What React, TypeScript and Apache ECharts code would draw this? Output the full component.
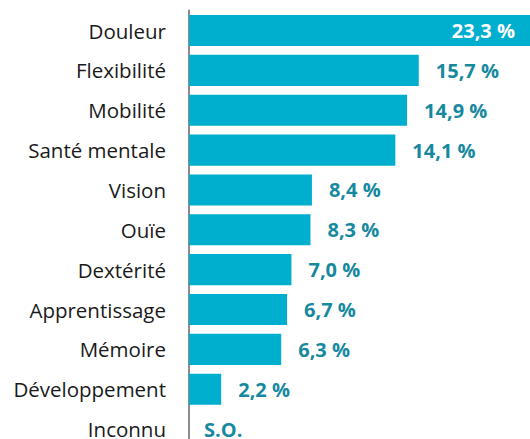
import React, { useEffect, useRef } from "react";
import * as echarts from "echarts";

const categories = [
  "Douleur",
  "Flexibilité",
  "Mobilité",
  "Santé mentale",
  "Vision",
  "Ouïe",
  "Dextérité",
  "Apprentissage",
  "Mémoire",
  "Développement",
  "Inconnu",
];
const values: (number | null)[] = [23.3, 15.7, 14.9, 14.1, 8.4, 8.3, 7.0, 6.7, 6.3, 2.2, null];
const missingLabel = "S.O.";

const BAR = "#00AECE";
const LABEL = "#17899F";
const FONT = "'Open Sans', 'Noto Sans', sans-serif";

const fmt = (v: number) => v.toFixed(1).replace(".", ",") + " %";

export default function App() {
  const ref = useRef<HTMLDivElement>(null);
  useEffect(() => {
    if (!ref.current) return;
    const chart = echarts.init(ref.current, undefined, { renderer: "svg" });
    const maxV = Math.max(...(values.filter((v) => v !== null) as number[]));
    const data = values.map((v) => {
      if (v === null) {
        return {
          value: 0,
          label: { show: true, position: "right", distance: 15, formatter: missingLabel },
        };
      }
      if (v === maxV) {
        return {
          value: v,
          label: { show: true, position: "insideRight", distance: 15, color: "#ffffff" },
        };
      }
      return { value: v };
    });
    chart.setOption({
      animation: false,
      grid: { left: 189, right: 0, top: 10.6, height: 438.4, containLabel: false },
      xAxis: {
        type: "value",
        min: 0,
        max: maxV,
        show: false,
      },
      yAxis: {
        type: "category",
        data: categories,
        inverse: true,
        axisLine: { show: true, lineStyle: { color: "#8c8c8c", width: 2 } },
        axisTick: { show: false },
        axisLabel: { color: "#1a1a1a", fontSize: 20.5, fontFamily: FONT, margin: 23 },
      },
      series: [
        {
          type: "bar",
          data,
          barCategoryGap: "22%",
          itemStyle: { color: BAR },
          label: {
            show: true,
            position: "right",
            distance: 17,
            color: LABEL,
            fontSize: 20,
            fontWeight: "bold",
            fontFamily: FONT,
            formatter: (p: any) => fmt(p.value),
          },
        },
      ],
    });
    return () => chart.dispose();
  }, []);
  return (
    <div
      style={{
        position: "fixed",
        left: 0,
        top: 0,
        width: 530,
        height: 439,
        overflow: "hidden",
        background: "#fff",
      }}
    >
      <div ref={ref} style={{ width: 530, height: 452 }} />
    </div>
  );
}
